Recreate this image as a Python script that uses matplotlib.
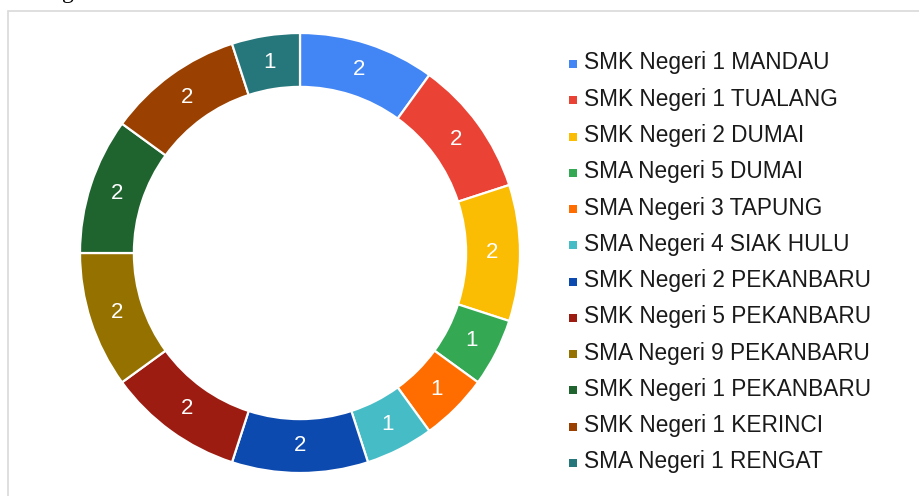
import matplotlib
matplotlib.use("Agg")
import matplotlib.pyplot as plt
from matplotlib.patches import Rectangle

schools = [
    "SMK Negeri 1 MANDAU", "SMK Negeri 1 TUALANG", "SMK Negeri 2 DUMAI",
    "SMA Negeri 5 DUMAI", "SMA Negeri 3 TAPUNG", "SMA Negeri 4 SIAK HULU",
    "SMK Negeri 2 PEKANBARU", "SMK Negeri 5 PEKANBARU", "SMA Negeri 9 PEKANBARU",
    "SMK Negeri 1 PEKANBARU", "SMK Negeri 1 KERINCI", "SMA Negeri 1 RENGAT",
]
counts = [2, 2, 2, 1, 1, 1, 2, 2, 2, 2, 2, 1]
colors = [
    "#4285F4", "#EA4335", "#FBBC04", "#34A853", "#FF6D01", "#46BDC6",
    "#0D4AB0", "#9C1C12", "#957100", "#1F632F", "#9A4000", "#26777B",
]

plt.rcParams['font.family'] = ['Liberation Sans', 'DejaVu Sans']

W, H = 920, 496
fig = plt.figure(figsize=(W / 100, H / 100), dpi=100)

# outer frame (only top and left edges visible)
fig.patches.append(Rectangle((8 / W, -0.1), 1.2, (H - 11) / H + 0.1,
                             transform=fig.transFigure, fill=False,
                             edgecolor="#d9d9d9", linewidth=1.2))
# descender of a caption line cut off above the frame
fig.text(62 / W, 1.0 + 2 / H, "g", family="Liberation Serif", fontsize=17,
         va="baseline", ha="left", color="black")

# donut
cx, cy, r = 300, 253, 220
ax = fig.add_axes([(cx - r) / W, (H - cy - r) / H, 2 * r / W, 2 * r / H])
wedges, texts = ax.pie(counts, colors=colors, startangle=90, counterclock=False,
                       radius=1.0, labels=[str(c) for c in counts],
                       labeldistance=0.875,
                       wedgeprops=dict(width=0.245, edgecolor="white", linewidth=1.6),
                       textprops=dict(color="white", fontsize=16, ha="center", va="center"))
ax.set_xlim(-1, 1)
ax.set_ylim(-1, 1)
ax.set_aspect("equal")
ax.axis("off")

# legend
y0, dy = 63, 36.27
for i, (name, col) in enumerate(zip(schools, colors)):
    y = y0 + i * dy
    fig.patches.append(Rectangle((569 / W, (H - y - 5) / H), 8 / W, 8 / H,
                                 transform=fig.transFigure, facecolor=col,
                                 edgecolor="none"))
    fig.text(584 / W, (H - y) / H, name, fontsize=16.3, va="center", ha="left",
             color="#1a1a1a")

plt.savefig("out.png", dpi=100)
